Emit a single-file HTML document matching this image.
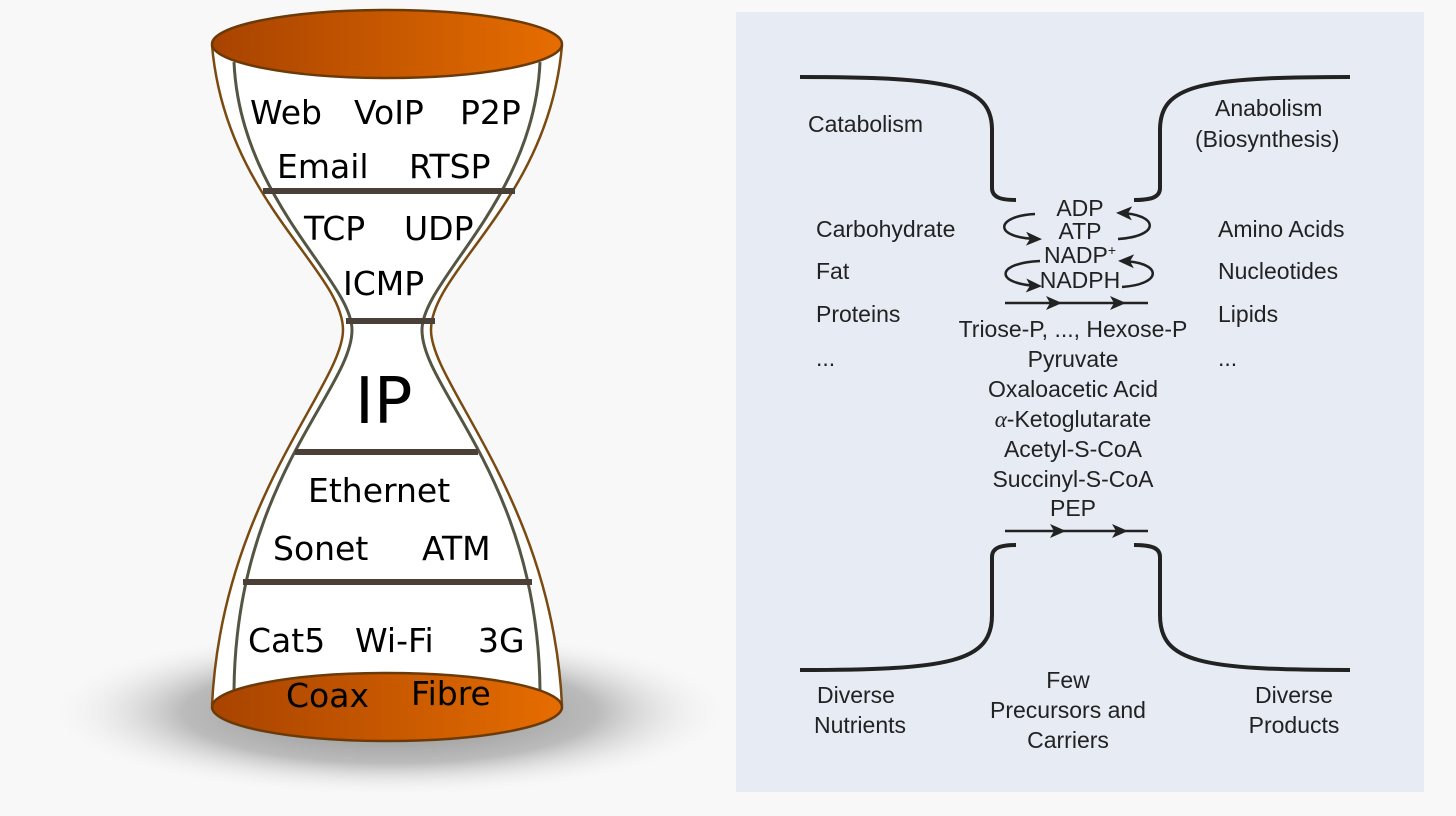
<!DOCTYPE html>
<html><head><meta charset="utf-8"><style>
html,body{margin:0;padding:0;background:#f8f8f8;}
svg{display:block}
.h{font-family:"DejaVu Sans",sans-serif;font-size:33px;fill:#000}
.m{font-family:"Liberation Sans",sans-serif;font-size:23px;fill:#222}
</style></head><body>
<svg width="1456" height="816" viewBox="0 0 1456 816" xmlns="http://www.w3.org/2000/svg">
<defs>
<linearGradient id="og" x1="0" x2="1" y1="0" y2="0">
<stop offset="0" stop-color="#a84300"/><stop offset="1" stop-color="#e66d00"/></linearGradient>
<radialGradient id="sh" cx="0.5" cy="0.5" r="0.5">
<stop offset="0" stop-color="#888"/><stop offset="0.6" stop-color="#bbb"/><stop offset="1" stop-color="#f8f8f8" stop-opacity="0"/></radialGradient>
<marker id="ah" markerWidth="16" markerHeight="14" refX="12" refY="7" orient="auto" markerUnits="userSpaceOnUse"><path d="M0,0 L16,7 L0,14 L4,7z" fill="#222"/></marker>
</defs>
<rect width="1456" height="816" fill="#f8f8f8"/>
<ellipse cx="390" cy="712" rx="345" ry="85" fill="url(#sh)"/>
<path d="M212,45 C225,200 343,270 343,330 C343,385 222,500 212,705 L562,705 C552,500 431,385 431,330 C431,270 549,200 562,45 Z" fill="#fff"/>
<path d="M212,45 C225,200 343,270 343,330 C343,385 222,500 212,705" fill="none" stroke="#7a4a10" stroke-width="2.5"/>
<path d="M562,45 C549,200 431,270 431,330 C431,385 552,500 562,705" fill="none" stroke="#7a4a10" stroke-width="2.5"/>
<path d="M234,62 C240,200 352,280 352,330 C352,390 236,480 234,690" fill="none" stroke="#554" stroke-width="3"/>
<path d="M540,62 C534,200 422,280 422,330 C422,390 538,480 540,690" fill="none" stroke="#554" stroke-width="3"/>
<g stroke="#4a4038" stroke-width="6">
<line x1="263" y1="191" x2="515" y2="191"/>
<line x1="346" y1="321" x2="435" y2="321"/>
<line x1="295" y1="452" x2="478" y2="452"/>
<line x1="243" y1="582" x2="532" y2="582"/>
</g>
<ellipse cx="387" cy="44" rx="175" ry="34" fill="url(#og)" stroke="#6a3a08" stroke-width="2.5"/>
<ellipse cx="387" cy="707" rx="175" ry="34" fill="url(#og)" stroke="#6a3a08" stroke-width="2.5"/>
<g class="h">
<text x="250" y="124">Web</text><text x="354" y="124">VoIP</text><text x="460" y="124">P2P</text>
<text x="277" y="178">Email</text><text x="409" y="178">RTSP</text>
<text x="304" y="240">TCP</text><text x="404" y="240">UDP</text>
<text x="343" y="295">ICMP</text>
<text x="355" y="423" style="font-size:64px">IP</text>
<text x="308" y="502">Ethernet</text>
<text x="273" y="560">Sonet</text><text x="422" y="560">ATM</text>
<text x="248" y="652">Cat5</text><text x="355" y="652">Wi-Fi</text><text x="478" y="652">3G</text>
<text x="286" y="707">Coax</text><text x="411" y="705">Fibre</text>
</g>
<rect x="736" y="12" width="688" height="780" fill="#e6ebf4"/>
<g fill="none" stroke="#222" stroke-width="4">
<path d="M800,77 C950,77 992,85 992,130 L992,188 C992,197 1000,200 1016,200"/>
<path d="M1350,77 C1200,77 1160,85 1160,130 L1160,188 C1160,197 1152,200 1134,200"/>
<path d="M800,670 C950,670 992,662 992,615 L992,557 C992,548 1000,545 1016,545"/>
<path d="M1350,670 C1200,670 1160,662 1160,615 L1160,557 C1160,548 1152,545 1134,545"/>
</g>
<g fill="none" stroke="#222" stroke-width="2.5">
<line x1="1005" y1="303" x2="1058" y2="303" marker-end="url(#ah)"/>
<line x1="1050" y1="303" x2="1122" y2="303" marker-end="url(#ah)"/>
<line x1="1120" y1="303" x2="1148" y2="303"/>
<line x1="1005" y1="531" x2="1062" y2="531" marker-end="url(#ah)"/>
<line x1="1060" y1="531" x2="1124" y2="531" marker-end="url(#ah)"/>
<line x1="1120" y1="531" x2="1148" y2="531"/>
<path d="M1035,214 C995,216 992,238 1038,239" marker-end="url(#ah)"/>
<path d="M1118,239 C1162,236 1158,214 1120,213" marker-end="url(#ah)"/>
<path d="M1040,261 C995,263 994,284 1038,286" marker-end="url(#ah)"/>
<path d="M1122,287 C1164,284 1162,262 1122,261" marker-end="url(#ah)"/>
</g>
<g class="m">
<text x="808" y="132">Catabolism</text>
<text x="1215" y="116">Anabolism</text><text x="1195" y="147">(Biosynthesis)</text>
<text x="816" y="237">Carbohydrate</text><text x="816" y="279">Fat</text><text x="816" y="322">Proteins</text><text x="816" y="366">...</text>
<text x="1218" y="237">Amino Acids</text><text x="1218" y="279">Nucleotides</text><text x="1218" y="322">Lipids</text><text x="1218" y="366">...</text>
<g text-anchor="middle">
<text x="1080" y="216">ADP</text><text x="1080" y="239">ATP</text>
<text x="1080" y="263">NADP<tspan dy="-8" font-size="14">+</tspan></text>
<text x="1080" y="288">NADPH</text>
<text x="1073" y="337">Triose-P, ..., Hexose-P</text>
<text x="1073" y="367">Pyruvate</text>
<text x="1073" y="397">Oxaloacetic Acid</text>
<text x="1073" y="427"><tspan font-style="italic" font-family="Liberation Serif">α</tspan>-Ketoglutarate</text>
<text x="1073" y="457">Acetyl-S-CoA</text>
<text x="1073" y="487">Succinyl-S-CoA</text>
<text x="1073" y="516">PEP</text>
<text x="856" y="703">Diverse</text><text x="860" y="733">Nutrients</text>
<text x="1068" y="688">Few</text><text x="1068" y="718">Precursors and</text><text x="1068" y="748">Carriers</text>
<text x="1294" y="703">Diverse</text><text x="1294" y="733">Products</text>
</g>
</g>
</svg>
</body></html>
